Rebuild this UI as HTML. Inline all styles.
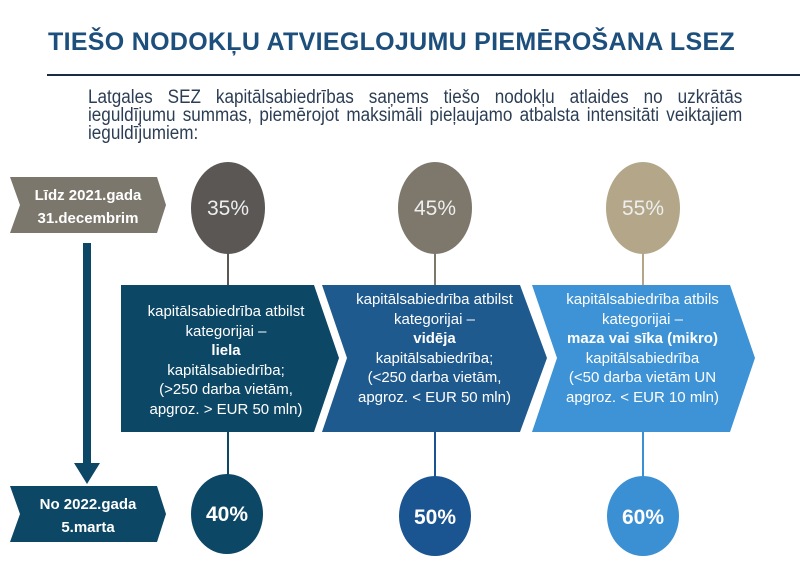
<!DOCTYPE html>
<html><head><meta charset="utf-8"><style>
body{margin:0;width:800px;height:568px;background:#fff;overflow:hidden;position:relative;font-family:"Liberation Sans",sans-serif}
#title{position:absolute;left:48px;top:28px;font:bold 25px "Liberation Sans",sans-serif;color:#1d4f7c;transform:scaleX(1.0);transform-origin:left top;letter-spacing:0.3px;white-space:nowrap}
#intro{position:absolute;left:88px;top:89px;width:727px;font-size:19px;line-height:18px;color:#2c3e55;text-align:justify;text-align-last:left;transform:scaleX(0.9);transform-origin:left top}
svg{position:absolute;left:0;top:0}
.bt{position:absolute;color:#fff;font-size:15px;line-height:19.5px;text-align:center}
</style></head><body>
<div id="title">TIEŠO NODOKĻU ATVIEGLOJUMU PIEMĒROŠANA LSEZ</div>
<div id="intro">Latgales SEZ kapitālsabiedrības saņems tiešo nodokļu atlaides no uzkrātās ieguldījumu summas, piemērojot maksimāli pieļaujamo atbalsta intensitāti veiktajiem ieguldījumiem:</div>
<svg width="800" height="568">
<line x1="47" y1="75" x2="800" y2="75" stroke="#1c2a44" stroke-width="2"/>
<polygon points="10,177 157,177 166,205 157,233 10,233 20,205" fill="#7c776c"/>
<text x="88" y="200" fill="#fff" font-size="15" font-weight="bold" text-anchor="middle">Līdz 2021.gada</text>
<text x="88" y="223" fill="#fff" font-size="15" font-weight="bold" text-anchor="middle">31.decembrim</text>
<rect x="83" y="243" width="8" height="222" fill="#0d4766"/>
<polygon points="74,463 100,463 87,484" fill="#0d4766"/>
<polygon points="10,486 157,486 166,514 157,542 10,542 20,514" fill="#0d4766"/>
<text x="88" y="509" fill="#fff" font-size="15" font-weight="bold" text-anchor="middle">No 2022.gada</text>
<text x="88" y="532" fill="#fff" font-size="15" font-weight="bold" text-anchor="middle">5.marta</text>
<g stroke-width="2">
<line x1="228" y1="250" x2="228" y2="290" stroke="#5a5755"/><line x1="435" y1="250" x2="435" y2="290" stroke="#7d776c"/><line x1="643" y1="250" x2="643" y2="290" stroke="#b3a689"/>
<line x1="228" y1="430" x2="228" y2="480" stroke="#0d4766"/><line x1="435" y1="430" x2="435" y2="480" stroke="#1a5591"/><line x1="643" y1="430" x2="643" y2="480" stroke="#3a90d3"/>
</g>
<ellipse cx="228" cy="208" rx="37" ry="46" fill="#5a5755"/>
<ellipse cx="435" cy="208" rx="37" ry="46" fill="#7d776c"/>
<ellipse cx="643" cy="208" rx="37" ry="46" fill="#b3a689"/>
<g fill="#eee" font-size="21" text-anchor="middle"><text x="228" y="215">35%</text><text x="435" y="215">45%</text><text x="643" y="215">55%</text></g>
<polygon points="121,285 314,285 339,358 314,432 121,432" fill="#0d4766"/>
<polygon points="322,285 520,285 547,358 520,432 322,432 347,358" fill="#1f5a8f"/>
<polygon points="532,285 730,285 755,358 730,432 532,432 557,358" fill="#3d93d5"/>
<ellipse cx="227" cy="514" rx="36" ry="40" fill="#0d4766"/>
<ellipse cx="435" cy="516" rx="36" ry="40" fill="#1a5591"/>
<ellipse cx="643" cy="516" rx="36" ry="40" fill="#3a90d3"/>
<g fill="#fff" font-size="21" font-weight="bold" text-anchor="middle"><text x="227" y="521">40%</text><text x="435" y="524">50%</text><text x="643" y="524">60%</text></g>
</svg>
<div class="bt" style="left:121px;top:302px;width:210px">kapitālsabiedrība atbilst<br>kategorijai –<br><b>liela</b><br>kapitālsabiedrība;<br>(&gt;250 darba vietām,<br>apgroz. &gt; EUR 50 mln)</div>
<div class="bt" style="left:332px;top:290px;width:205px">kapitālsabiedrība atbilst<br>kategorijai –<br><b>vidēja</b><br>kapitālsabiedrība;<br>(&lt;250 darba vietām,<br>apgroz. &lt; EUR 50 mln)</div>
<div class="bt" style="left:540px;top:290px;width:205px;white-space:nowrap;overflow:hidden">kapitālsabiedrība atbils<br>kategorijai –<br><b>maza vai sīka (mikro)</b><br>kapitālsabiedrība<br>(&lt;50 darba vietām UN<br>apgroz. &lt; EUR 10 mln)</div>
</body></html>
